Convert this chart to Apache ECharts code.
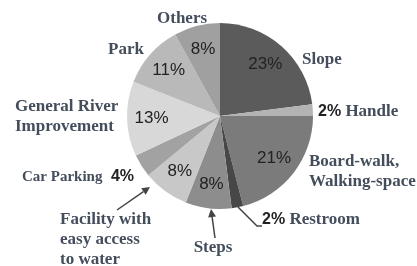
<!DOCTYPE html>
<html>
<head>
<meta charset="utf-8">
<script src="https://cdn.jsdelivr.net/npm/echarts@6/dist/echarts.min.js"></script>
<style>
  html, body { margin: 0; padding: 0; background: #fff; }
  #chart { width: 417px; height: 266px; }
</style>
</head>
<body>
<div id="chart"></div>
<script>
// slices, clockwise from 12 o'clock
const names = ['Slope', 'Handle', 'Board-walk,\nWalking-space', 'Restroom', 'Steps',
  'Facility with\neasy access\nto water', 'Car Parking', 'General River\nImprovement', 'Park', 'Others']
const shares = [23, 2, 21, 2, 8, 8, 4, 13, 11, 8]
const greys = ['#5b5b5b', '#b3b3b3', '#7b7b7b', '#474747', '#8d8d8d',
  '#c8c8c8', '#a2a2a2', '#d8d8d8', '#b9b9b9', '#a0a0a0']

// where the name labels sit: [x, y, align]
const labelSpots = [
  [302, 60, 'left'], [318, 112, 'left'], [309, 172, 'left'], [262, 220, 'left'],
  [213, 248, 'center'], [60, 240, 'left'], [22, 177, 'left'], [15, 117, 'left'],
  [108, 50, 'left'], [157, 19, 'left']
]

const center = [220, 116]
const R = 93
const serif = '"Liberation Serif", "DejaVu Serif", serif'
const sans = '"Liberation Sans", Arial, sans-serif'
const nameColor = '#444d5c'

let chart = echarts.init(document.getElementById('chart'))

function arrow (x1, y1, x2, y2) {
  const a = Math.atan2(y2 - y1, x2 - x1)
  const L = 8, W = 4
  const bx = x2 - L * Math.cos(a), by = y2 - L * Math.sin(a)
  return [
    { type: 'line', shape: { x1: x1, y1: y1, x2: bx, y2: by }, style: { stroke: '#444', lineWidth: 1.5 } },
    {
      type: 'polygon',
      shape: { points: [[x2, y2], [bx + W * Math.sin(a), by - W * Math.cos(a)], [bx - W * Math.sin(a), by + W * Math.cos(a)]] },
      style: { fill: '#444' }
    }
  ]
}

chart.setOption({
  backgroundColor: '#fff',
  animation: false,
  graphic: [
    ...arrow(117, 210, 150, 187),
    ...arrow(215, 238, 211, 209),
    { type: 'polyline', shape: { points: [[238, 207], [257, 226], [262, 226]] }, style: { stroke: '#444', lineWidth: 1.5, fill: null } }
  ],
  series: [
    {
      type: 'pie',
      center: center,
      radius: [0, R],
      startAngle: 90,
      clockwise: true,
      silent: true,
      avoidLabelOverlap: false,
      data: names.map((n, i) => ({ name: n, value: shares[i], itemStyle: { color: greys[i] } })),
      label: {
        show: true,
        overflow: 'none',
        width: 200,
        fontFamily: serif,
        fontWeight: 'bold',
        fontSize: 17,
        lineHeight: 20,
        color: nameColor,
        formatter: function (p) {
          if (p.value < 5) {
            if (p.name === 'Car Parking') return '{c|' + p.name + '}  {p|' + p.value + '%}'
            return '{p|' + p.value + '%} {n|' + p.name + '}'
          }
          return p.name
        },
        rich: {
          p: { fontFamily: sans, fontSize: 16, fontWeight: 'bold', color: '#222' },
          n: { fontFamily: serif, fontSize: 17, fontWeight: 'bold', color: nameColor },
          c: { fontFamily: serif, fontSize: 15, fontWeight: 'bold', color: nameColor }
        }
      },
      labelLine: { show: false },
      labelLayout: function (params) {
        const s = labelSpots[params.dataIndex]
        return { x: s[0], y: s[1], align: s[2], verticalAlign: 'middle' }
      }
    },
    {
      type: 'pie',
      center: center,
      radius: [38, R],
      startAngle: 90,
      clockwise: true,
      silent: true,
      data: names.map((n, i) => ({ name: n, value: shares[i] })),
      itemStyle: { color: 'rgba(0,0,0,0)' },
      label: {
        show: true,
        position: 'inside',
        fontFamily: sans,
        fontSize: 17,
        color: '#222',
        formatter: function (p) { return p.value < 5 ? '' : p.value + '%' }
      },
      labelLine: { show: false }
    }
  ]
})
</script>
</body>
</html>
